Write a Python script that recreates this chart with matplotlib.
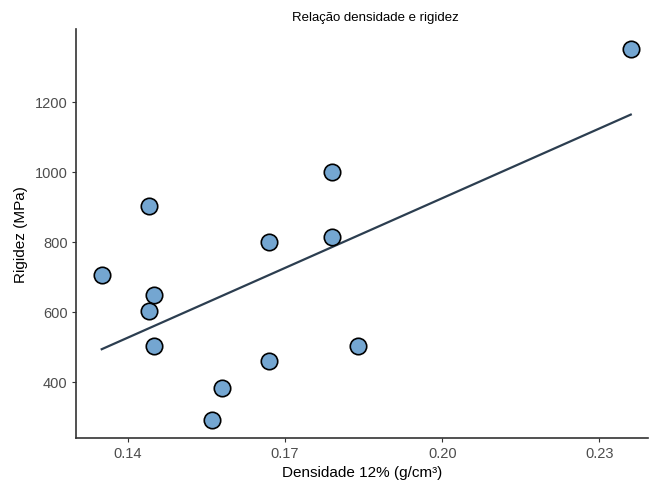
import numpy as np
import matplotlib
matplotlib.use("Agg")
import matplotlib.pyplot as plt

plt.rcParams['font.family'] = ['Liberation Sans', 'DejaVu Sans']

densidade = [0.135, 0.144, 0.145, 0.144, 0.145, 0.156, 0.158, 0.167, 0.167, 0.179, 0.179, 0.184, 0.236]
rigidez = [706, 902, 649, 602, 502, 292, 382, 801, 459, 1001, 813, 504, 1351]
x_ticks = [0.14, 0.17, 0.20, 0.23]
x_tick_labels = ["0.14", "0.17", "0.20", "0.23"]
y_ticks = [400, 600, 800, 1000, 1200]

fig = plt.figure(figsize=(6.5, 4.81), dpi=100)
ax = fig.add_axes([0.117, 0.0873, 0.88, 0.8503])

x = np.array(densidade)
y = np.array(rigidez)
b, a = np.polyfit(x, y, 1)
xs = np.array([x.min(), x.max()])
ax.plot(xs, a + b * xs, color='#2C3E50', lw=1.6, zorder=2)
ax.scatter(x, y, s=140, facecolor='#74A6D1', edgecolor='black', linewidth=1.2, zorder=3)

ax.set_xlim(0.1301, 0.2393)
ax.set_ylim(240, 1408)
ax.set_xticks(x_ticks)
ax.set_xticklabels(x_tick_labels)
ax.set_yticks(y_ticks)

for s in ['top', 'right']:
    ax.spines[s].set_visible(False)
for s in ['left', 'bottom']:
    ax.spines[s].set_color('#333333')
    ax.spines[s].set_linewidth(1.2)
ax.tick_params(axis='both', direction='out', length=3, width=0.8, color='#333333',
               labelcolor='#4D4D4D', labelsize=10.5, pad=3)

ax.set_xlabel("Densidade 12% (g/cm³)", fontsize=11, color='black', labelpad=3)
ax.set_ylabel("Rigidez (MPa)", fontsize=11, color='black', labelpad=5)
fig.suptitle("Relação densidade e rigidez", x=0.578, y=0.975, fontsize=9.5, color='black')

fig.savefig("out.png", dpi=100)
